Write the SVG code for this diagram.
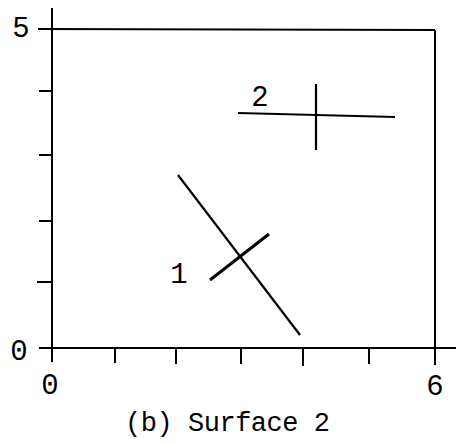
<svg xmlns="http://www.w3.org/2000/svg" width="456" height="444" viewBox="0 0 456 444">
<style>
.ax{stroke:#000;stroke-width:2;fill:none;stroke-linecap:butt}
.ln{stroke:#000;stroke-width:2.2;fill:none}
.thick{stroke:#000;stroke-width:3;fill:none}
text{font-family:"Liberation Mono","Courier New",monospace;fill:#000}
.num{font-size:29px}
.cap{font-size:27px}
</style>
<rect width="456" height="444" fill="#fff"/>
<g id="axes">
<line class="ax" x1="52" y1="8" x2="52" y2="362"/>
<line class="ax" x1="39" y1="348" x2="456" y2="348"/>
<line class="ax" x1="38" y1="29" x2="435" y2="30"/>
<line class="ax" x1="435" y1="30" x2="435" y2="365"/>
<line class="ax" x1="39" y1="91" x2="52" y2="91"/>
<line class="ax" x1="39" y1="155" x2="52" y2="155"/>
<line class="ax" x1="39" y1="221" x2="52" y2="221"/>
<line class="ax" x1="37" y1="282" x2="52" y2="282"/>
<line class="ax" x1="115" y1="348" x2="115" y2="363"/>
<line class="ax" x1="176" y1="348" x2="176" y2="364"/>
<line class="ax" x1="241" y1="348" x2="241" y2="364"/>
<line class="ax" x1="303" y1="348" x2="303" y2="366"/>
<line class="ax" x1="369" y1="348" x2="369" y2="364"/>
</g>
<g id="labels">
<text class="num" x="21" y="37" text-anchor="middle">5</text>
<text class="num" x="19" y="360" text-anchor="middle">0</text>
<text class="num" x="50" y="394" text-anchor="middle">0</text>
<text class="num" x="435" y="395" text-anchor="middle">6</text>
<text class="cap" x="125" y="431" textLength="205" lengthAdjust="spacing">(b) Surface 2</text>
</g>
<g id="feature-2">
<line class="ln" x1="238" y1="113" x2="395" y2="117"/>
<line class="ln" x1="316" y1="84" x2="316" y2="150"/>
<text class="num" x="260" y="106" text-anchor="middle">2</text>
</g>
<g id="feature-1">
<line class="ln" x1="178" y1="175" x2="300" y2="335"/>
<line class="thick" x1="210" y1="280" x2="269" y2="234"/>
<text class="num" x="179" y="283" text-anchor="middle">1</text>
</g>
</svg>
